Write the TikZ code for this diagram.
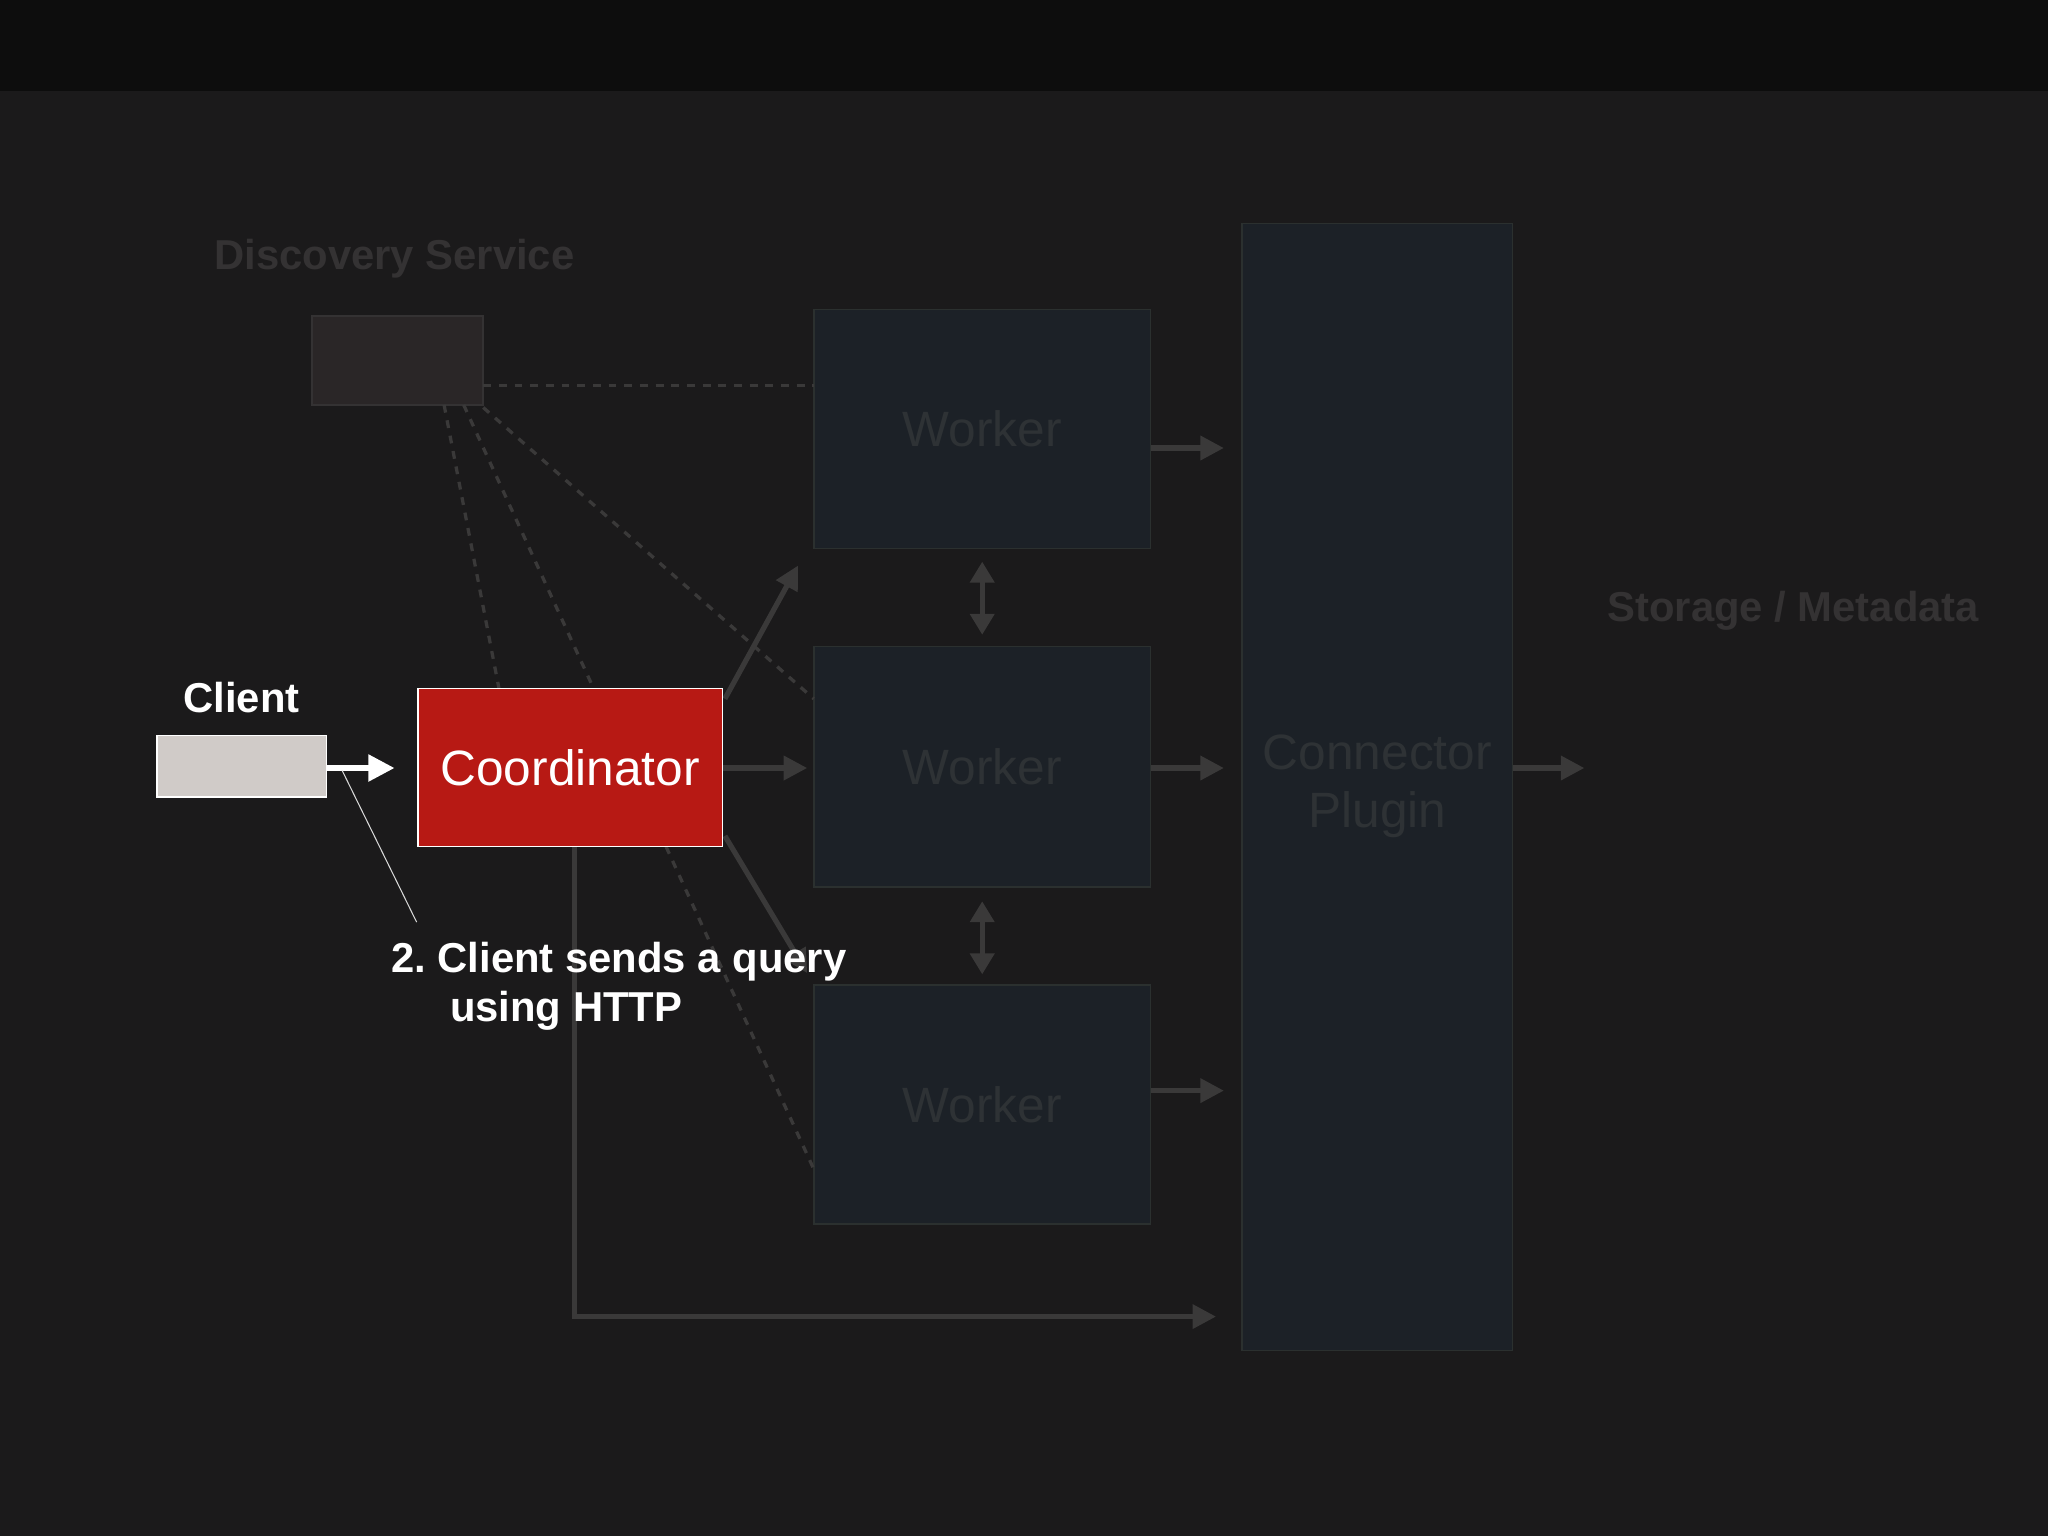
\documentclass[tikz,border=0pt]{standalone}
\usepackage{fontspec}
\setmainfont{Liberation Sans}
\frenchspacing
\usetikzlibrary{arrows.meta}
\definecolor{bg}{HTML}{1B1A1B}
\definecolor{topbar}{HTML}{0D0D0D}
\definecolor{wfill}{HTML}{1C2127}
\definecolor{wdraw}{HTML}{2B302F}
\definecolor{wtext}{HTML}{2E3235}
\definecolor{garr}{HTML}{3A3939}
\definecolor{dfill}{HTML}{2A2627}
\definecolor{dtext}{HTML}{343233}
\definecolor{cfill}{HTML}{D0CBC8}
\definecolor{cored}{HTML}{B71914}
\tikzset{
 workerbox/.style={draw=wdraw,fill=wfill,line width=1.2pt},
 gline/.style={draw=garr,line width=4pt},
 garrow/.style={gline,-{Triangle[length=18pt,width=18pt]}},
 dline/.style={draw=garr,line width=2.5pt,dash pattern=on 6pt off 6pt},
}
\begin{document}
\begin{tikzpicture}[x=1pt,y=-1pt]
\fill[bg] (0,0) rectangle (1568,1176);
\fill[topbar] (0,0) rectangle (1568,70);
\useasboundingbox (0,0) rectangle (1568,1176);
% connector plugin
\draw[workerbox] (951,171) rectangle (1158,1034);
\node (conn) at (1054.5,602) {};
\node[text=wtext,font=\fontsize{38}{44}\selectfont,align=center] at (1054.5,602) {Connector\\Plugin};
% workers
\draw[workerbox] (623,237) rectangle (881,420);
\draw[workerbox] (623,495) rectangle (881,679);
\draw[workerbox] (623,754) rectangle (881,937);
\node (w1) [text=wtext,font=\fontsize{38}{44}\selectfont] at (752,328) {Worker};
\node (w2) [text=wtext,font=\fontsize{38}{44}\selectfont] at (752,587) {Worker};
\node (w3) [text=wtext,font=\fontsize{38}{44}\selectfont] at (752,846) {Worker};
\coordinate (w1r) at (881,343); \coordinate (w2r) at (881,588); \coordinate (w3r) at (881,835);
\coordinate (c1) at (937,343); \coordinate (c2) at (937,588); \coordinate (c3) at (937,835);
\draw[garrow] (w1r) -- (c1);
\draw[garrow] (w2r) -- (c2);
\draw[garrow] (w3r) -- (c3);
\coordinate (cr) at (1158,588); \coordinate (st) at (1213,588);
\draw[garrow] (cr) -- (st);
\coordinate (a1) at (752,430); \coordinate (a2) at (752,486);
\coordinate (a3) at (752,690); \coordinate (a4) at (752,746);
\draw[gline,{Triangle[length=16pt,width=18pt]}-{Triangle[length=16pt,width=18pt]}] (a1) -- (a2);
\draw[gline,{Triangle[length=16pt,width=18pt]}-{Triangle[length=16pt,width=18pt]}] (a3) -- (a4);
\node (stor) [text=dtext,font=\bfseries\fontsize{32}{38}\selectfont] at (1373,468) {Storage / Metadata};
% discovery
\draw[draw=dtext,fill=dfill,line width=1.2pt] (239,242) rectangle (370,310);
\node (disc) at (304.5,276) {};
\node (dlab) [text=dtext,font=\bfseries\fontsize{32}{38}\selectfont] at (302,198) {Discovery Service};
\coordinate (d0) at (370,295); \coordinate (dw1) at (623,295);
\draw[dline] (d0) -- (dw1);
\coordinate (d1) at (340,310); \coordinate (dc) at (382,527);
\draw[dline] (d1) -- (dc);
\coordinate (d2) at (355,310); \coordinate (dw3) at (623,895);
\draw[dline] (d2) -- (dw3);
\coordinate (d3) at (370,312); \coordinate (dw2) at (623,535);
\draw[dline] (d3) -- (dw2);
% coordinator outgoing
\coordinate (cw1a) at (555,535); \coordinate (cw1b) at (611,433);
\draw[garrow] (cw1a) -- (cw1b);
\coordinate (cw2a) at (553,588); \coordinate (cw2b) at (618,588);
\draw[garrow] (cw2a) -- (cw2b);
\coordinate (cw3a) at (555,640); \coordinate (cw3b) at (618,745);
\draw[garrow] (cw3a) -- (cw3b);
\coordinate (cb) at (440,648); \coordinate (cc) at (931,1008);
\draw[garrow] (cb) |- (cc);
% client + coordinator
\node (client) [draw=white,fill=cfill,line width=1.2pt,minimum width=130pt,minimum height=47pt,inner sep=0] at (185,586.5) {};
\node (clab) [text=white,font=\bfseries\fontsize{32}{38}\selectfont] at (185,534) {Client};
\node (coord) [draw=white,fill=cored,line width=1.2pt,minimum width=233pt,minimum height=121pt,inner sep=0,text=white,font=\fontsize{38}{44}\selectfont] at (436.5,587.5) {Coordinator};
\coordinate (cle) at (302,588);
\draw[white,line width=4pt,-{Triangle[length=20pt,width=20pt]}] (client.east |- cle) -- (cle);
\coordinate (ann1) at (262,590); \coordinate (ann2) at (319,706);
\draw[white!85!black,line width=0.8pt] (ann1) -- (ann2);
\node (note) [text=white,font=\bfseries\fontsize{32}{37}\selectfont,align=left,anchor=north west] at (296,718) {2. Client sends a query\\\hspace*{45pt}using HTTP};
\end{tikzpicture}
\end{document}
